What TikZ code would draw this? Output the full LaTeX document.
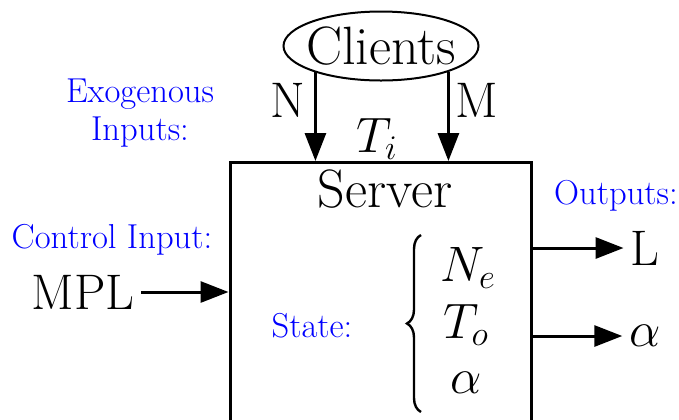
\documentclass[tikz,border=0pt]{standalone}
\usepackage{fontspec}
\usetikzlibrary{shapes.geometric}
\usetikzlibrary{arrows.meta}
\usetikzlibrary{decorations.pathreplacing}
\newcommand*{\bigtext  }{\fontsize{25}{30}\selectfont}
\newcommand*{\hugetext }{\fontsize{27}{32}\selectfont}
\newcommand*{\smalltext}{\fontsize{17.3}{19}\selectfont}
\newcommand*{\boxw     }{150.5pt}
\newcommand*{\boxh     }{150pt}
\tikzset{
    arr/.style = {line width=1.5pt, -{Triangle[length=14pt,width=10.5pt]}},
    tag/.style = {text=blue, font=\smalltext, align=center},
}

\begin{document}
\begin{tikzpicture}[x=0.5pt, y=-0.5pt, font=\bigtext]
    \useasboundingbox (0,0) rectangle (679,419);
    \clip (0,0) rectangle (679,419);
        % clients and server
        \node [ellipse, draw, line width=1pt, font=\hugetext, inner xsep=-12pt, inner ysep=2pt, minimum width=97.5pt, minimum height=34.5pt] (clients) at (381,46) {Clients};
        \node [draw, line width=1.5pt, inner sep=0pt, minimum width=\boxw, minimum height=\boxh, anchor=north] (server) at (380.5,161) {};
        \node [font=\hugetext, inner sep=0pt] (srvname) at (385,189) {Server};
        % exogenous inputs
        \draw [arr] (clients.202) -- (clients.202 |- server.north);
        \draw [arr] (clients.339) -- (clients.339 |- server.north);
        \node (n)  at (288,100) {N};
        \node (m)  at (477,100) {M};
        \node [inner sep=0pt] (ti) at (377,139) {$T_i$};
        \node [tag] (exo) at (140,113) {Exogenous\\Inputs:};
        % control input
        \node [tag] (ctl) at (112,240) {Control Input:};
        \node (mpl) at (83,292) {MPL};
        \draw [arr] (mpl.east) -- (mpl -| server.west);
        % state
        \node [tag] (state) at (312,326) {State:};
        \node (ne) at (468,268) {$N_e$};
        \node (to) at (466,325) {$T_o$};
        \node (al) at (466,383) {$\alpha$};
        \draw [line width=1.2pt, decorate, decoration={brace, amplitude=7pt}] (421,412) -- (421,235);
        % outputs
        \node [tag] (out) at (616,196) {Outputs:};
        \node (lout) at (645,248) {L};
        \node (aout) at (645,336) {$\alpha$};
        \draw [arr] (lout -| server.east) -- (lout.west);
        \draw [arr] (aout -| server.east) -- (aout.west);
    \end{tikzpicture}
\end{document}
